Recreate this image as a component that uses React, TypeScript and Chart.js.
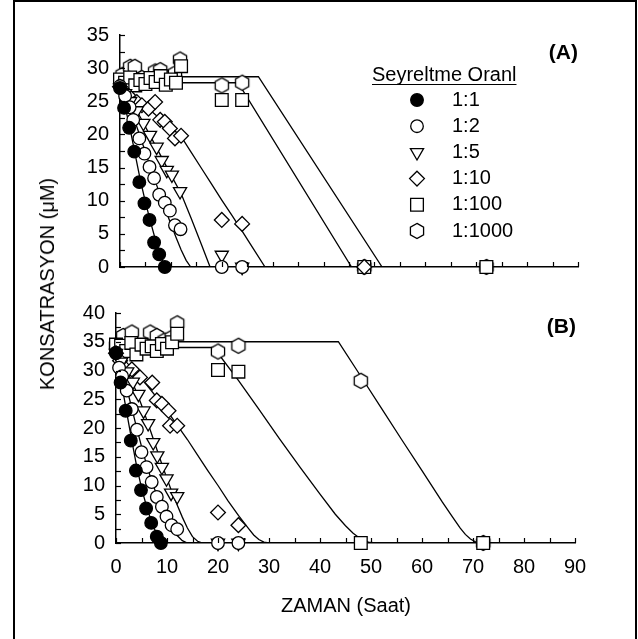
import React, { useEffect, useRef } from "react";
import { Chart, registerables } from "chart.js";
Chart.register(...registerables);

const FONT = '"Liberation Sans", Arial, sans-serif';

const seriesLabels = ["1:1", "1:2", "1:5", "1:10", "1:100", "1:1000"];
const legendTitle = "Seyreltme Oranl";
const xTitle = "ZAMAN (Saat)";
const yTitle = "KONSATRASYON (\u03BCM)";
const panelLabelA = "(A)";
const panelLabelB = "(B)";

// tick positions
const xTickValues = [0, 5, 10, 15, 20, 25, 30, 35, 40, 45, 50, 55, 60, 65, 70, 75, 80, 85, 90];
const yTickValuesA = [0, 2.5, 5, 7.5, 10, 12.5, 15, 17.5, 20, 22.5, 25, 27.5, 30, 32.5, 35];
const yTickValuesB = [0, 2.5, 5, 7.5, 10, 12.5, 15, 17.5, 20, 22.5, 25, 27.5, 30, 32.5, 35, 37.5, 40];

// ---------- Panel A measured points ----------
const tA11 = [0, 0.8, 1.8, 2.8, 3.8, 4.8, 5.8, 6.7, 7.7, 8.8];
const cA11 = [27, 24, 21, 17.4, 12.8, 9.6, 7.1, 3.7, 1.9, 0];
const tA12 = [0, 1, 1.9, 2.6, 3.8, 4.8, 5.8, 6.7, 7.7, 8.8, 9.8, 10.8, 11.9, 20, 24];
const cA12 = [27.3, 25.8, 24.1, 22.2, 19.4, 17.1, 15.1, 13.4, 10.9, 9.7, 8.5, 6.3, 5.7, 0, 0];
const tA15 = [0, 1, 2, 3.3, 4.6, 5.9, 7.2, 8.2, 9.2, 10.2, 11.8, 20, 24];
const cA15 = [27, 26.2, 25, 23.6, 21.7, 19.9, 18.1, 16.1, 14.6, 13.9, 11.4, 1.8, 0];
const tA110 = [0, 1.6, 3.3, 4.3, 5.6, 6.9, 7.9, 8.8, 9.8, 10.8, 12, 20, 24, 48];
const cA110 = [27.2, 25.9, 24.9, 24.4, 23.9, 24.9, 22.2, 21.9, 20.9, 19.4, 19.8, 7.1, 6.5, 0];
const tA1100 = [0, 1, 2, 3, 4, 5, 6, 7, 8, 9, 10, 11, 12, 20, 24, 48, 72];
const cA1100 = [28.3, 27.8, 28.6, 27.4, 28.2, 27.6, 28.5, 27.9, 28.8, 27.5, 28.3, 27.8, 30.3, 25.2, 25.2, 0, 0];
const tA11000 = [0.5, 2, 2.9, 4.3, 5.9, 6.9, 7.9, 9.5, 10.8, 11.8, 20, 24, 48, 72];
const cA11000 = [29, 30.2, 30.2, 28.5, 28.2, 29.5, 29.7, 28.5, 29.2, 31.3, 27.4, 27.8, 0, 0];

// ---------- Panel A fitted curves ----------
const ftA11 = [0, 1, 2, 3, 4, 5, 6, 7, 8, 8.8];
const fcA11 = [27.2, 24.2, 20.8, 16.9, 13.1, 9.8, 6.8, 4, 1.8, 0];
const ftA12 = [0, 1, 2, 3, 4, 5, 6, 7, 8, 9, 10, 11, 12, 13, 13.9];
const fcA12 = [27.2, 25.8, 24, 21.8, 19.6, 17.3, 15, 12.8, 10.6, 8.5, 6.5, 4.5, 2.6, 1.0, 0];
const ftA15 = [0, 2, 4, 6, 8, 10, 12, 14, 16, 17.7];
const fcA15 = [27.2, 25.3, 22.6, 19.7, 16.8, 13.9, 11.1, 7.3, 3.4, 0];
const ftA110 = [0, 2, 4, 6, 8, 10, 12, 14, 16, 18, 20, 22, 24, 26, 28.5];
const fcA110 = [27.2, 26, 24.9, 23.6, 22.3, 21, 19.7, 17.3, 14.9, 12.5, 10.1, 7.8, 5.4, 3, 0];
const ftA1100 = [0, 23.2, 45.5];
const fcA1100 = [27.8, 27.8, 0];
const ftA11000 = [0, 27.2, 51.5];
const fcA11000 = [28.7, 28.7, 0];

// ---------- Panel B measured points ----------
const tB11 = [0, 0.9, 1.9, 2.9, 3.9, 4.9, 5.9, 6.9, 8, 8.8];
const cB11 = [33.1, 27.9, 23, 17.8, 12.6, 9.2, 6, 3.5, 1.1, 0];
const tB12 = [0, 0.6, 1.2, 2.1, 3.1, 4.1, 5, 6, 7, 8, 9, 9.9, 10.9, 12, 20, 24];
const cB12 = [33, 30.5, 29, 26.5, 23.3, 19.7, 15.8, 13.2, 10.6, 8, 6.3, 4.6, 3.1, 2.4, 0, 0];
const tB15 = [0, 1, 2.2, 3.3, 4.4, 5.4, 6.3, 7.3, 8.1, 9, 9.9, 10.8, 12, 20, 24];
const cB15 = [33, 31.5, 29.8, 28, 25.9, 23, 20.8, 17.5, 15.2, 13.2, 11.2, 8.7, 8.1, 0, 0];
const tB110 = [0, 0.8, 3.1, 4.7, 7.1, 8, 9, 10.3, 10.6, 12, 20, 24];
const cB110 = [33, 31.7, 30.2, 28.8, 27.9, 24.8, 24.2, 23, 20.4, 20.4, 5.3, 3.1];
const tB1100 = [0, 1, 2, 3, 4, 5, 6, 7, 8, 9, 10, 11, 12, 20, 24, 48, 72];
const cB1100 = [34.5, 34.3, 33.4, 34.8, 32.8, 34.5, 33.8, 34.2, 33.4, 34.6, 33.8, 34.9, 36.4, 30.1, 29.8, 0, 0];
const tB11000 = [0, 1.4, 3.1, 6.7, 8, 9.5, 10.9, 12, 20, 24, 48, 72];
const cB11000 = [34.3, 36, 36.6, 36.6, 36, 35.2, 35.7, 38.2, 33.3, 34.3, 28.2, 0];

// ---------- Panel B fitted curves ----------
const ftB11 = [0, 1, 2, 3, 4, 5, 6, 7, 8, 8.8, 9.6];
const fcB11 = [33, 28.2, 23.2, 18.3, 13.6, 9.6, 6.3, 3.6, 1.5, 0.4, 0];
const ftB12 = [0, 1, 2, 3, 4, 5, 6, 7, 8, 9, 10, 11, 12, 13, 14];
const fcB12 = [33, 30.5, 27.3, 23.8, 20.2, 16.8, 13.6, 10.8, 8.3, 6.1, 4.2, 2.6, 1.3, 0.4, 0];
const ftB15 = [0, 1, 2, 3, 4, 5, 6, 7, 8, 9, 10, 11, 12, 13, 14, 15, 16, 17];
const fcB15 = [33, 31.8, 30.2, 28.3, 26.3, 24, 21.5, 18.9, 16.3, 13.7, 11.2, 8.8, 6.6, 4.5, 2.6, 1.1, 0.3, 0];
const ftB110 = [0, 2, 4, 6, 8, 10, 12, 14, 16, 18, 20, 22, 24, 26, 27, 28, 29, 30];
const fcB110 = [33, 31.5, 29.5, 27.5, 25.3, 23, 20.5, 18, 15.3, 12.6, 10, 7.3, 4.8, 2.5, 1.4, 0.6, 0.15, 0];
const ftB1100 = [0, 19, 20, 24, 28, 32, 36, 40, 43, 45, 46.5, 48, 49.5, 51, 80];
const fcB1100 = [34, 34, 33, 28.3, 23.3, 18.2, 13.3, 8.5, 5, 3, 1.7, 0.7, 0.15, 0, 0];
const ftB11000 = [0, 43.6, 48, 52, 56, 60, 64, 66, 67.5, 68.5, 69.5, 70.5, 71.5, 80];
const fcB11000 = [35, 35, 29, 23.5, 18, 12.6, 7.1, 4.5, 2.6, 1.5, 0.7, 0.2, 0, 0];

const panelAMarkers = [[tA11, cA11], [tA12, cA12], [tA15, cA15], [tA110, cA110], [tA1100, cA1100], [tA11000, cA11000]];
const panelAFits = [[ftA11, fcA11], [ftA12, fcA12], [ftA15, fcA15], [ftA110, fcA110], [ftA1100, fcA1100], [ftA11000, fcA11000]];
const panelBMarkers = [[tB11, cB11], [tB12, cB12], [tB15, cB15], [tB110, cB110], [tB1100, cB1100], [tB11000, cB11000]];
const panelBFits = [[ftB11, fcB11], [ftB12, fcB12], [ftB15, fcB15], [ftB110, fcB110], [ftB1100, fcB1100], [ftB11000, fcB11000]];

function pts(xs: number[], ys: number[]) {
  return xs.map((x, i) => ({ x, y: ys[i] }));
}

const HEX_R = 7.6;
function makeHex(): HTMLCanvasElement {
  const c = document.createElement("canvas");
  c.width = 20;
  c.height = 20;
  const ctx = c.getContext("2d")!;
  ctx.beginPath();
  for (let k = 0; k < 6; k++) {
    const a = (Math.PI / 3) * k - Math.PI / 2;
    const px = 10 + HEX_R * Math.cos(a);
    const py = 10 + HEX_R * Math.sin(a);
    if (k === 0) ctx.moveTo(px, py);
    else ctx.lineTo(px, py);
  }
  ctx.closePath();
  ctx.fillStyle = "#fff";
  ctx.fill();
  ctx.lineWidth = 1.3;
  ctx.strokeStyle = "#000";
  ctx.stroke();
  return c;
}

function markerProps(i: number, hex: HTMLCanvasElement): any {
  switch (i) {
    case 0:
      return { pointStyle: "circle", pointRadius: 6.3, pointBackgroundColor: "#000" };
    case 1:
      return { pointStyle: "circle", pointRadius: 6.3, pointBackgroundColor: "#fff" };
    case 2:
      return { pointStyle: "triangle", pointRadius: 7.6, pointRotation: 180, pointBackgroundColor: "#fff" };
    case 3:
      return { pointStyle: "rectRot", pointRadius: 7.4, pointBackgroundColor: "#fff" };
    case 4:
      return { pointStyle: "rect", pointRadius: 9, pointBackgroundColor: "#fff" };
    default:
      return { pointStyle: hex, pointRadius: 7.6, pointBackgroundColor: "#fff" };
  }
}

function drawLegendMarker(ctx: CanvasRenderingContext2D, i: number, x: number, y: number, hex: HTMLCanvasElement) {
  ctx.save();
  ctx.lineWidth = 1.3;
  ctx.strokeStyle = "#000";
  ctx.fillStyle = i === 0 ? "#000" : "#fff";
  ctx.beginPath();
  if (i === 0 || i === 1) {
    ctx.arc(x, y, 6.3, 0, Math.PI * 2);
  } else if (i === 2) {
    const r = 7.6;
    ctx.moveTo(x, y + r);
    ctx.lineTo(x - r * Math.sin(Math.PI / 3), y - r / 2);
    ctx.lineTo(x + r * Math.sin(Math.PI / 3), y - r / 2);
    ctx.closePath();
  } else if (i === 3) {
    const r = 7.4;
    ctx.moveTo(x, y - r);
    ctx.lineTo(x + r, y);
    ctx.lineTo(x, y + r);
    ctx.lineTo(x - r, y);
    ctx.closePath();
  } else if (i === 4) {
    const s = 9 * Math.SQRT1_2;
    ctx.rect(x - s, y - s, 2 * s, 2 * s);
  } else {
    ctx.drawImage(hex, x - hex.width / 2, y - hex.height / 2);
    ctx.restore();
    return;
  }
  ctx.fill();
  ctx.stroke();
  ctx.restore();
}

const innerTicksPlugin = {
  id: "innerTicks",
  afterDatasetsDraw(chart: any, _args: any, opts: any) {
    const ctx = chart.ctx as CanvasRenderingContext2D;
    const xs = chart.scales.x;
    const ys = chart.scales.y;
    ctx.save();
    ctx.strokeStyle = "#000";
    ctx.lineWidth = 1.2;
    for (const v of opts.xTicks as number[]) {
      const px = Math.round(xs.getPixelForValue(v)) + 0.5;
      ctx.beginPath();
      ctx.moveTo(px, ys.bottom);
      ctx.lineTo(px, ys.bottom - 5);
      ctx.stroke();
    }
    for (const v of opts.yTicks as number[]) {
      const py = Math.round(ys.getPixelForValue(v)) + 0.5;
      ctx.beginPath();
      ctx.moveTo(xs.left, py);
      ctx.lineTo(xs.left + 5, py);
      ctx.stroke();
    }
    ctx.restore();
  },
};

function makeDecorPlugin(hex: HTMLCanvasElement) {
  return {
    id: "decor",
    afterDraw(chart: any, _args: any, opts: any) {
      const ctx = chart.ctx as CanvasRenderingContext2D;
      ctx.save();
      ctx.fillStyle = "#000";
      ctx.font = `bold 21px ${FONT}`;
      ctx.textAlign = "right";
      ctx.textBaseline = "middle";
      ctx.fillText(opts.panelLabel, opts.labelX, opts.labelY);
      if (opts.legend) {
        ctx.font = `20px ${FONT}`;
        ctx.textAlign = "left";
        ctx.fillText(legendTitle, 372, 75);
        const w = ctx.measureText(legendTitle).width;
        ctx.strokeStyle = "#000";
        ctx.lineWidth = 1;
        ctx.beginPath();
        ctx.moveTo(372, 84.5);
        ctx.lineTo(372 + w, 84.5);
        ctx.stroke();
        seriesLabels.forEach((lab, i) => {
          const y = 100 + i * 26.2;
          drawLegendMarker(ctx, i, 417, y, hex);
          ctx.fillStyle = "#000";
          ctx.fillText(lab, 452, y);
        });
      }
      ctx.restore();
    },
  };
}

function buildConfig(
  markers: number[][][],
  fits: number[][][],
  hex: HTMLCanvasElement,
  p: {
    yMax: number;
    yTicks: number[];
    yWidth: number;
    xHeight: number;
    padTop: number;
    padRight: number;
    showXLabels: boolean;
    panelLabel: string;
    labelX: number;
    labelY: number;
    legend: boolean;
  }
): any {
  const datasets: any[] = [];
  markers.forEach((m, i) => {
    datasets.push({
      label: seriesLabels[i],
      data: pts(m[0], m[1]),
      showLine: false,
      clip: false,
      order: i,
      borderColor: "#000",
      pointBorderColor: "#000",
      pointBorderWidth: 1.3,
      pointHoverRadius: 0,
      ...markerProps(i, hex),
    });
  });
  fits.forEach((f, i) => {
    datasets.push({
      label: "fit " + seriesLabels[i],
      data: pts(f[0], f[1]),
      showLine: true,
      pointRadius: 0,
      borderColor: "#000",
      borderWidth: 1.3,
      tension: 0,
      order: 20,
    });
  });
  return {
    type: "scatter",
    data: { datasets },
    plugins: [innerTicksPlugin, makeDecorPlugin(hex)],
    options: {
      responsive: false,
      animation: false,
      devicePixelRatio: 1,
      layout: { padding: { top: p.padTop, right: p.padRight, left: 0, bottom: 0 } },
      plugins: {
        legend: { display: false },
        tooltip: { enabled: false },
        innerTicks: { xTicks: xTickValues, yTicks: p.yTicks },
        decor: { panelLabel: p.panelLabel, labelX: p.labelX, labelY: p.labelY, legend: p.legend },
      },
      scales: {
        x: {
          type: "linear",
          min: 0,
          max: 90,
          grid: { display: false, drawTicks: false },
          border: { display: true, color: "#000", width: 1.5 },
          ticks: {
            display: p.showXLabels,
            stepSize: 10,
            color: "#000",
            padding: 12,
            font: { family: FONT, size: 20 },
          },
          afterFit: (s: any) => {
            s.height = p.xHeight;
          },
        },
        y: {
          type: "linear",
          min: 0,
          max: p.yMax,
          grid: { display: false, drawTicks: false },
          border: { display: true, color: "#000", width: 1.5 },
          ticks: {
            stepSize: 5,
            color: "#000",
            padding: 11,
            font: { family: FONT, size: 20 },
          },
          afterFit: (s: any) => {
            s.width = p.yWidth;
          },
        },
      },
    },
  };
}

export default function App() {
  const topRef = useRef<HTMLCanvasElement>(null);
  const botRef = useRef<HTMLCanvasElement>(null);

  useEffect(() => {
    document.body.style.margin = "0";
    const hex = makeHex();
    const c1 = new Chart(
      topRef.current!,
      buildConfig(panelAMarkers, panelAFits, hex, {
        yMax: 35,
        yTicks: yTickValuesA,
        yWidth: 120,
        xHeight: 23,
        padTop: 35,
        padRight: 60,
        showXLabels: false,
        panelLabel: panelLabelA,
        labelX: 578,
        labelY: 53,
        legend: true,
      })
    );
    const c2 = new Chart(
      botRef.current!,
      buildConfig(panelBMarkers, panelBFits, hex, {
        yMax: 40,
        yTicks: yTickValuesB,
        yWidth: 116,
        xHeight: 96,
        padTop: 22,
        padRight: 63,
        showXLabels: true,
        panelLabel: panelLabelB,
        labelX: 576,
        labelY: 37,
        legend: false,
      })
    );
    return () => {
      c1.destroy();
      c2.destroy();
    };
  }, []);

  return (
    <div
      style={{
        position: "relative",
        width: 638,
        height: 639,
        overflow: "hidden",
        background: "#fff",
        fontFamily: FONT,
        color: "#000",
      }}
    >
      <div
        style={{
          position: "absolute",
          left: 13,
          top: 0,
          width: 624,
          height: 700,
          border: "2px solid #000",
          boxSizing: "border-box",
        }}
      />
      <canvas ref={topRef} width={638} height={290} style={{ position: "absolute", left: 0, top: 0 }} />
      <canvas ref={botRef} width={638} height={349} style={{ position: "absolute", left: 0, top: 290 }} />
      <div
        style={{
          position: "absolute",
          left: 47,
          top: 284,
          transform: "translate(-50%, -50%) rotate(-90deg)",
          fontSize: 20,
          whiteSpace: "nowrap",
          lineHeight: "24px",
        }}
      >
        {yTitle}
      </div>
      <div
        style={{
          position: "absolute",
          left: 346,
          top: 605,
          transform: "translate(-50%, -50%)",
          fontSize: 20,
          whiteSpace: "nowrap",
          lineHeight: "24px",
        }}
      >
        {xTitle}
      </div>
    </div>
  );
}
